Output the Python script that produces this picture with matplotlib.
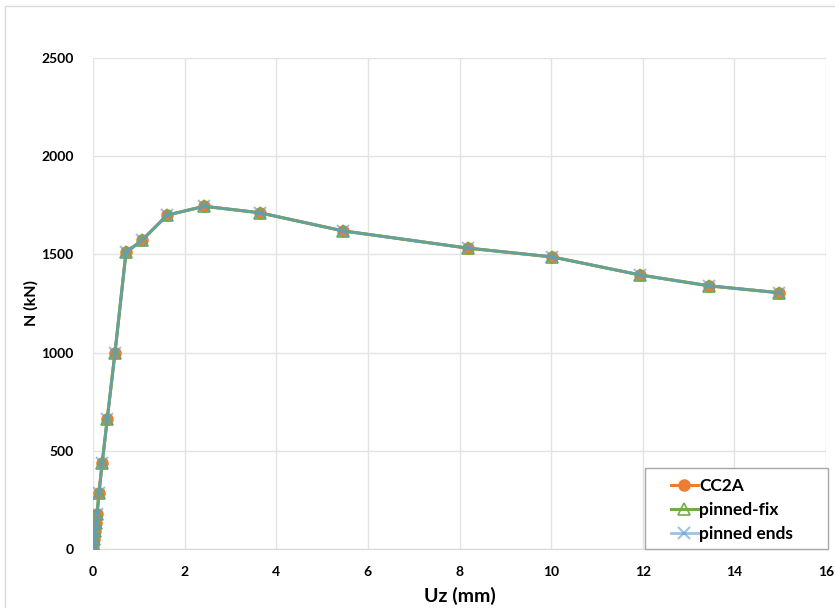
import matplotlib
matplotlib.use("Agg")
import matplotlib.pyplot as plt
from matplotlib.patches import Rectangle

plt.rcParams['font.family'] = ['Lato', 'DejaVu Sans']

uz = [0, 0.01, 0.03, 0.05, 0.07, 0.09, 0.13, 0.20, 0.31, 0.48, 0.72, 1.07, 1.62,
      2.43, 3.64, 5.45, 8.18, 10.03, 11.95, 13.45, 14.97]
n_cc2a = [0, 20, 50, 90, 130, 180, 285, 437, 660, 1000, 1510, 1572, 1700,
          1745, 1712, 1620, 1532, 1487, 1395, 1340, 1305]
n_pinned_fix = list(n_cc2a)
n_pinned_ends = list(n_cc2a)

x_ticks = [0, 2, 4, 6, 8, 10, 12, 14, 16]
y_ticks = [0, 500, 1000, 1500, 2000, 2500]

fig = plt.figure(figsize=(8.35, 6.08), dpi=100)
fig.patches.append(Rectangle((5/835, -0.01), 1.0, 1 - 6/608 + 0.01, transform=fig.transFigure,
                             fill=False, edgecolor='#D9D9D9', linewidth=1.0))
ax = fig.add_axes([93/835, 1 - 549/608, (826 - 93)/835, (549 - 58)/608])

ax.plot(uz, n_cc2a, color='#ED7D31', lw=2.2, marker='o', ms=8, mfc='#ED7D31', mec='#ED7D31', label='CC2A', zorder=3)
ax.plot(uz, n_pinned_fix, color='#70AD47', lw=2.2, marker='^', ms=8, mfc='none', mec='#70AD47', mew=1.2, label='pinned-fix', zorder=4)
ax.plot(uz, n_pinned_ends, color='#5B9BD5', lw=2.0, alpha=0.6, marker='x', ms=8, mec='#5B9BD5', mew=1.5, label='pinned ends', zorder=5)

ax.set_xlim(0, 16)
ax.set_ylim(0, 2500)
ax.set_xticks(x_ticks)
ax.set_yticks(y_ticks)
ax.grid(True, color='#E3E3E3', lw=1.0)
ax.set_axisbelow(True)
for s in ['top', 'right', 'left']:
    ax.spines[s].set_visible(False)
ax.spines['bottom'].set_color('#D9D9D9')
ax.tick_params(length=0, labelsize=10, pad=12)
for lab in ax.get_xticklabels() + ax.get_yticklabels():
    lab.set_fontweight('bold')
ax.tick_params(axis='y', pad=14)
ax.set_xlabel('Uz (mm)', fontsize=14, fontweight='bold', labelpad=7)
ax.set_ylabel('N (kN)', fontsize=11.5, fontweight='bold', labelpad=2)

# legend frame drawn as a box like the reference
ax.add_patch(Rectangle(((645 - 93) / 733, 0.0), (828 - 645) / 733, (549 - 468) / 491,
                       transform=ax.transAxes, fill=True, facecolor='white',
                       edgecolor='#A6A6A6', lw=1.0, clip_on=False, zorder=6))
leg = ax.legend(loc='upper left', bbox_to_anchor=((668 - 93) / 733, (549 - 475) / 491),
                frameon=False, fontsize=12.5, handlelength=1.5, handletextpad=0.1,
                borderpad=0.2, labelspacing=0.45, borderaxespad=0.0)
leg.set_zorder(7)
for t in leg.get_texts():
    t.set_fontweight('bold')

fig.savefig('out.png', dpi=100)
